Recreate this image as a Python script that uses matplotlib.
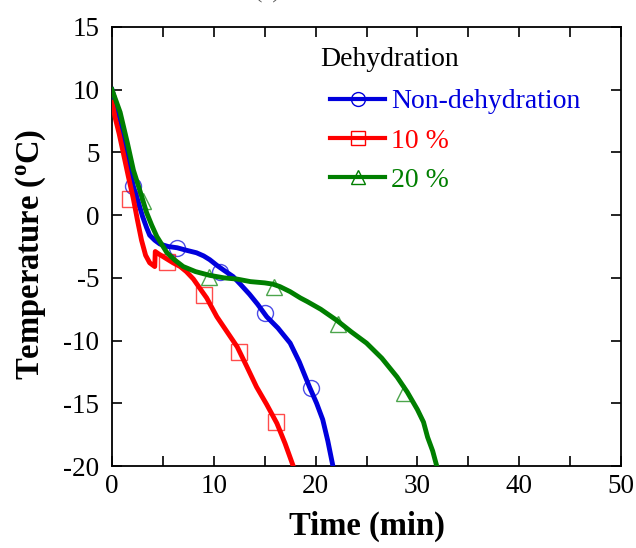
import matplotlib
matplotlib.use("Agg")
import matplotlib.pyplot as plt
from matplotlib.lines import Line2D

plt.rcParams['font.family'] = ['Liberation Serif', 'DejaVu Serif']
plt.rcParams['mathtext.fontset'] = 'custom'
plt.rcParams['mathtext.rm'] = 'Liberation Serif'
plt.rcParams['mathtext.bf'] = 'Liberation Serif:bold'
plt.rcParams['axes.unicode_minus'] = False

# ---- data ----
nd_x = [0, 0.5, 1.0, 1.5, 2.1, 2.6, 3.0, 3.4, 3.7, 4.2, 4.7, 5.5, 6.4, 7.3, 8.3, 9.0, 9.6,
        10.3, 11.0, 11.9, 12.6, 13.5, 14.3, 15.2, 16.3, 17.5, 18.4, 19.4, 20.1, 20.7, 21.2, 21.7]
nd_y = [10, 8.6, 6.9, 4.6, 2.3, 1.0, -0.1, -1.0, -1.6, -2.0, -2.3, -2.5, -2.6, -2.8, -3.0, -3.25, -3.55,
        -4.0, -4.4, -4.9, -5.5, -6.3, -7.1, -8.1, -9.0, -10.2, -11.7, -13.7, -15.0, -16.3, -18.0, -20.0]

d10_x = [0, 0.3, 0.7, 1.1, 1.6, 2.1, 2.5, 2.9, 3.3, 3.7, 4.2, 4.25, 4.6, 5.0, 5.4, 6.0, 6.7, 7.3,
         8.0, 8.6, 9.3, 10.3, 11.3, 12.3, 13.2, 14.2, 15.2, 16.2, 17.0, 17.8]
d10_y = [9, 7.8, 6.5, 5.0, 3.1, 1.3, -0.4, -2.0, -3.2, -3.8, -4.1, -2.9, -3.1, -3.3, -3.5, -3.8, -4.1, -4.5,
         -5.1, -5.8, -6.6, -8.1, -9.3, -10.5, -12.0, -13.7, -15.1, -16.6, -18.2, -20.0]

d20_x = [0, 0.8, 1.5, 2.1, 2.8, 3.4, 3.9, 4.4, 5.4, 6.2, 7.0, 8.2, 9.6, 11.0, 12.3, 13.6, 15.0, 15.8,
         16.5, 17.5, 18.5, 19.2, 20.5, 22.1, 23.5, 25.0, 26.5, 28.0, 29.0, 30.0, 30.6, 31.0, 31.5, 31.9]
d20_y = [10, 8.2, 5.8, 3.6, 1.8, 0.2, -0.8, -1.7, -3.0, -3.6, -4.1, -4.5, -4.8, -5.0, -5.1, -5.3, -5.4, -5.5,
         -5.7, -6.1, -6.6, -6.9, -7.5, -8.4, -9.3, -10.2, -11.4, -12.9, -14.1, -15.5, -16.5, -17.7, -18.8, -20.0]

nd_mx = [2.1, 6.4, 10.6, 15.0, 19.5]
nd_my = [2.3, -2.6, -4.5, -7.8, -13.8]
d10_mx = [1.8, 5.4, 9.0, 12.5, 16.1]
d10_my = [1.3, -3.7, -6.4, -10.9, -16.5]
d20_mx = [3.0, 9.5, 15.9, 22.2, 28.7]
d20_my = [1.1, -4.9, -5.7, -8.7, -14.2]

labels = ['Non-dehydration', '10 %', '20 %']
legend_title = 'Dehydration'
colors = ['#0000dd', '#ff0000', '#007f00']
markers = ['o', 's', '^']

series = [(nd_x, nd_y, nd_mx, nd_my), (d10_x, d10_y, d10_mx, d10_my), (d20_x, d20_y, d20_mx, d20_my)]

fig = plt.figure(figsize=(6.36, 5.48), dpi=100)
ax = fig.add_axes([112/636, 1-466/548, (621-112)/636, (466-27)/548])

handles = []
for (x, y, mx, my), c, m, lab in zip(series, colors, markers, labels):
    ax.plot(mx, my, linestyle='none', marker=m, markersize=11.5, markerfacecolor='none',
            markeredgecolor=c, markeredgewidth=1.0, alpha=0.7, zorder=2)
    ax.plot(x, y, color=c, lw=3.5, zorder=3, solid_joinstyle='round')
    handles.append(Line2D([], [], color=c, lw=3.0, marker=m, markersize=10,
                          markerfacecolor='none', markeredgecolor=c, markeredgewidth=1.0))

ax.set_xlim(0, 50)
ax.set_ylim(-20, 15)
ax.set_xticks([0, 10, 20, 30, 40, 50])
ax.set_xticks([5, 15, 25, 35, 45], minor=True)
ax.set_yticks([-20, -15, -10, -5, 0, 5, 10, 15])
ax.tick_params(which='both', direction='in', top=True, right=True, length=7, width=1.2,
               labelsize=19.5)
ax.tick_params(axis='x', pad=6)
ax.tick_params(axis='y', pad=9)
for s in ax.spines.values():
    s.set_linewidth(1.3)

ax.set_xlabel('Time (min)', fontsize=23.5, fontweight='bold', labelpad=8)
ax.set_ylabel(r'Temperature ($\mathregular{^{o}}$C)', fontsize=23.5, fontweight='bold')
ax.yaxis.set_label_coords(-0.126, 0.482)

leg = ax.legend(handles, labels, loc='upper left',
                bbox_to_anchor=(0.428, 0.859), frameon=False, fontsize=20,
                handlelength=2.0, handletextpad=0.2, labelspacing=0.5, borderpad=0.0,
                borderaxespad=0.0)
for t, c in zip(leg.get_texts(), colors):
    t.set_color(c)
ax.text((320-112)/509, 1 - (60-27)/439, legend_title, transform=ax.transAxes,
        ha='left', va='center', fontsize=20)

fig.text(267/636, 1 - 3/548, '(a)', ha='center', va='bottom', fontsize=16, color='#555555')

fig.savefig('out.png', dpi=100)
